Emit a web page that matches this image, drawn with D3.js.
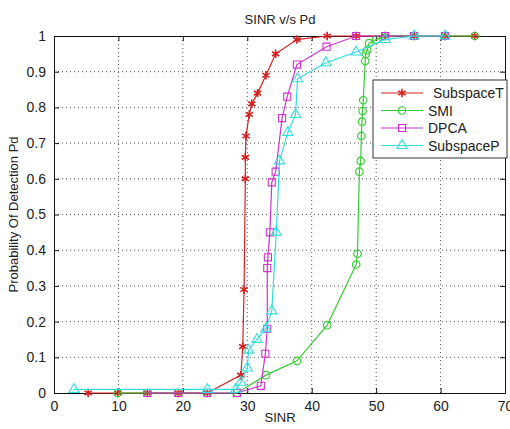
<!DOCTYPE html>
<html>
<head>
<meta charset="utf-8">
<script src="https://cdn.jsdelivr.net/npm/d3@7"></script>
<style>
  body { margin: 0; background: #fff; }
  text { font-family: "Liberation Sans", Arial, sans-serif; fill: #222; }
</style>
</head>
<body>
<div id="chart"></div>
<script>
// series data, [SINR, Pd]
const subspaceT = [[5.3,0],[9.9,0],[14.5,0],[19.3,0],[23.8,0],[29.0,0.05],[29.3,0.13],[29.5,0.29],[29.7,0.60],[29.7,0.66],[29.8,0.72],[30.3,0.78],[30.7,0.81],[31.6,0.84],[32.9,0.89],[34.4,0.95],[37.7,0.99],[42.4,1],[46.9,1],[51.4,1],[55.9,1],[60.7,1],[65.3,1]];
const smi = [[9.9,0],[14.5,0],[19.3,0],[23.8,0],[28.4,0],[32.9,0.05],[37.7,0.09],[42.4,0.19],[46.9,0.36],[47.1,0.39],[47.4,0.62],[47.6,0.65],[47.7,0.72],[47.8,0.76],[47.9,0.79],[48.0,0.82],[48.3,0.93],[48.4,0.95],[48.6,0.96],[48.9,0.98],[50.0,0.99],[51.4,1],[55.9,1],[60.7,1],[65.3,1]];
const dpca = [[14.5,0],[19.3,0],[23.8,0],[28.4,0],[32.1,0.02],[32.8,0.11],[33.1,0.18],[33.1,0.35],[33.2,0.38],[33.5,0.45],[33.8,0.59],[34.4,0.62],[35.4,0.77],[36.2,0.83],[37.7,0.92],[42.3,0.97],[46.9,1],[51.4,1],[55.9,1],[60.7,1]];
const subspaceP = [[3.1,0.01],[23.8,0.01],[28.2,0.01],[29.0,0.03],[30.0,0.07],[30.2,0.12],[31.5,0.15],[32.9,0.18],[33.8,0.23],[34.5,0.45],[35.0,0.65],[36.3,0.73],[37.5,0.78],[37.8,0.88],[42.2,0.925],[46.9,0.955],[51.4,0.99],[55.9,1],[60.7,1]];

const seriesNames = ["SubspaceT", "SMI", "DPCA", "SubspaceP"];
const xTicks = [0, 10, 20, 30, 40, 50, 60, 70];
const yTicks = [0, 0.1, 0.2, 0.3, 0.4, 0.5, 0.6, 0.7, 0.8, 0.9, 1];

const series = [
    { name: seriesNames[0], data: subspaceT, color: "#d42020", marker: "star" },
    { name: seriesNames[1], data: smi, color: "#33cc33", marker: "circle" },
    { name: seriesNames[2], data: dpca, color: "#cc33cc", marker: "square" },
    { name: seriesNames[3], data: subspaceP, color: "#33dddd", marker: "triangle" }
];

let margin = { top: 36, right: 5, bottom: 36, left: 54 };
let width = 510 - margin.left - margin.right;
let height = 429 - margin.top - margin.bottom;

let svg = d3.select("#chart")
    .append("svg")
    .attr("width", 510)
    .attr("height", 429);

let g = svg.append("g")
    .attr("transform", "translate(" + margin.left + "," + margin.top + ")");

const x = d3.scaleLinear().domain([0, 70]).range([0, width]);
const y = d3.scaleLinear().domain([0, 1]).range([height, 0]);

// grid
g.selectAll(".vgrid")
    .data(xTicks.slice(1, -1))
    .join("line")
    .attr("x1", d => x(d)).attr("x2", d => x(d))
    .attr("y1", 0).attr("y2", height)
    .attr("stroke", "#555").attr("stroke-width", 1)
    .attr("stroke-dasharray", "1,3");
g.selectAll(".hgrid")
    .data(yTicks.slice(1, -1))
    .join("line")
    .attr("y1", d => y(d)).attr("y2", d => y(d))
    .attr("x1", 0).attr("x2", width)
    .attr("stroke", "#555").attr("stroke-width", 1)
    .attr("stroke-dasharray", "1,3");

// axes (ticks point inward like matlab)
const xAxis = g.append("g")
    .attr("transform", "translate(0," + height + ")")
    .call(d3.axisBottom(x).tickValues(xTicks).tickSize(-5).tickPadding(8));
const yAxis = g.append("g")
    .call(d3.axisLeft(y).tickValues(yTicks).tickSize(-5).tickPadding(8).tickFormat(d3.format("")));
g.append("g")
    .call(d3.axisTop(x).tickValues(xTicks).tickSize(-5).tickFormat(""));
g.append("g")
    .attr("transform", "translate(" + width + ",0)")
    .call(d3.axisRight(y).tickValues(yTicks).tickSize(-5).tickFormat(""));
g.selectAll(".domain").attr("stroke", "#111");
g.selectAll(".tick line").attr("stroke", "#111");
g.selectAll(".tick text").style("font-size", "14px").attr("fill", "#333");

// lines
const line = d3.line().x(d => x(d[0])).y(d => y(d[1]));
const symbolFor = {
    star: d3.symbolAsterisk,
    circle: d3.symbolCircle,
    square: d3.symbolSquare,
    triangle: d3.symbolTriangle
};
const sizeFor = { star: 50, circle: 45, square: 50, triangle: 45 };

series.forEach(s => {
    g.append("path")
        .datum(s.data)
        .attr("d", line)
        .attr("fill", "none")
        .attr("stroke", s.color)
        .attr("stroke-width", 1.2);
    g.selectAll(null)
        .data(s.data)
        .join("path")
        .attr("transform", d => "translate(" + x(d[0]) + "," + y(d[1]) + ")")
        .attr("d", d3.symbol().type(symbolFor[s.marker]).size(sizeFor[s.marker]))
        .attr("fill", "none")
        .attr("stroke", s.color)
        .attr("stroke-width", s.marker == "star" ? 1.6 : 1.1);
});

// title and labels
svg.append("text")
    .attr("x", 280).attr("y", 24)
    .attr("text-anchor", "middle")
    .style("font-size", "13px")
    .text("SINR v/s Pd");
svg.append("text")
    .attr("x", 280).attr("y", 422)
    .attr("text-anchor", "middle")
    .style("font-size", "13px")
    .text("SINR");
svg.append("text")
    .attr("transform", "translate(18," + (margin.top + height / 2) + ") rotate(-90)")
    .attr("text-anchor", "middle")
    .style("font-size", "13px")
    .text("Probability Of Detection Pd");

// legend
let legend = svg.append("g").attr("transform", "translate(373,80)");
legend.append("rect")
    .attr("width", 134).attr("height", 78)
    .attr("fill", "#fff").attr("stroke", "#333").attr("stroke-width", 1);
series.forEach((s, i) => {
    let ly = 13 + i * 17.5;
    legend.append("line")
        .attr("x1", 8).attr("x2", 50)
        .attr("y1", ly).attr("y2", ly)
        .attr("stroke", s.color).attr("stroke-width", 1.2);
    legend.append("path")
        .attr("transform", "translate(29," + ly + ")")
        .attr("d", d3.symbol().type(symbolFor[s.marker]).size(sizeFor[s.marker]))
        .attr("fill", "none").attr("stroke", s.color)
        .attr("stroke-width", s.marker == "star" ? 1.6 : 1.1);
    legend.append("text")
        .attr("x", i == 0 ? 60 : 55).attr("y", ly + 5)
        .style("font-size", "14px")
        .text(s.name);
});
</script>
</body>
</html>
